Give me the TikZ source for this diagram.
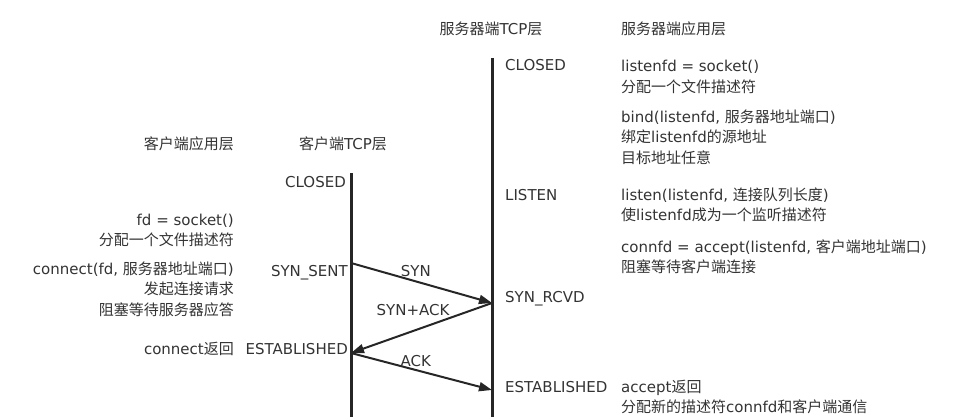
\documentclass[tikz,border=0pt]{standalone}
\usepackage{fontspec}
\setmainfont{DejaVu Sans}
\newfontfamily\zhfont{Noto Sans CJK SC}
\newcommand{\zh}[1]{{\zhfont #1}}
\newcommand{\lcol}[1]{\begin{tabular}[t]{@{}l@{}}#1\end{tabular}}
\newcommand{\rcol}[1]{\begin{tabular}[t]{@{}r@{}}#1\end{tabular}}
\usetikzlibrary{arrows.meta}

\tikzset{
  txt/.style={inner sep=0pt,font=\fontsize{15}{20.5}\selectfont,text=black!80},
  lifeline/.style={line width=3pt,black!85},
  msg/.style={line width=2pt,black!85,-{Triangle[length=13pt,width=9pt]}},
}

\begin{document}
\begin{tikzpicture}[x=1pt,y=-1pt]
    \useasboundingbox (0,0) rectangle (960,417);
    % layer headers
    \node[txt,anchor=base] (stcp) at (491,35) {\zh{服务器端}TCP\zh{层}};
    \node[txt,anchor=base west] (sapp) at (621,35) {\zh{服务器端应用层}};
    \node[txt,anchor=base east] (capp) at (234,149) {\zh{客户端应用层}};
    \node[txt,anchor=base] (ctcp) at (343,149) {\zh{客户端}TCP\zh{层}};
    % lifelines
    \coordinate (cTop) at (351,173);
    \coordinate (cBot) at (351,417);
    \coordinate (sTop) at (492,58);
    \coordinate (sBot) at (492,417);
    \draw[lifeline] (cTop) -- (cBot);
    \draw[lifeline] (sTop) -- (sBot);
    % client TCP states
    \node[txt,anchor=base east] (cClosed) at (346,187) {CLOSED};
    \node[txt,anchor=base east] (cSent) at (348,276) {SYN\_SENT};
    \node[txt,anchor=base east] (cEst) at (348,354) {ESTABLISHED};
    % server TCP states
    \node[txt,anchor=base west] (sClosed) at (505,71) {CLOSED};
    \node[txt,anchor=base west] (sListen) at (505,200) {LISTEN};
    \node[txt,anchor=base west] (sRcvd) at (505,302) {SYN\_RCVD};
    \node[txt,anchor=base west] (sEst) at (505,392) {ESTABLISHED};
    % client application calls
    \node[txt,anchor=base east] (cSocket) at (234,225)
        {\rcol{fd = socket()\\ \zh{分配一个文件描述符}}};
    \node[txt,anchor=base east] (cConnect) at (234,274)
        {\rcol{connect(fd, \zh{服务器地址端口})\\ \zh{发起连接请求}\\ \zh{阻塞等待服务器应答}}};
    \node[txt,anchor=base east] (cRet) at (234,354) {connect\zh{返回}};
    % server application calls
    \node[txt,anchor=base west] (sSocket) at (621,72)
        {\lcol{listenfd = socket()\\ \zh{分配一个文件描述符}}};
    \node[txt,anchor=base west] (sBind) at (621,122)
        {\lcol{bind(listenfd, \zh{服务器地址端口})\\ \zh{绑定}listenfd\zh{的源地址}\\ \zh{目标地址任意}}};
    \node[txt,anchor=base west] (sListenCall) at (621,200)
        {\lcol{listen(listenfd, \zh{连接队列长度})\\ \zh{使}listenfd\zh{成为一个监听描述符}}};
    \node[txt,anchor=base west] (sAccept) at (621,252)
        {\lcol{connfd = accept(listenfd, \zh{客户端地址端口})\\ \zh{阻塞等待客户端连接}}};
    \node[txt,anchor=base west] (sRet) at (621,392)
        {\lcol{accept\zh{返回}\\ \zh{分配新的描述符}connfd\zh{和客户端通信}}};
    % three-way handshake
    \coordinate (cSyn) at (351,263);
    \coordinate (sSyn) at (492,303);
    \coordinate (cAck) at (351,353);
    \coordinate (sAck) at (492,390);
    \draw[msg] (cSyn) -- node[txt,pos=.46,above=4pt] (lSyn) {SYN} (sSyn);
    \draw[msg] (sSyn) -- node[txt,pos=.56,above=14pt] (lSynAck) {SYN+ACK} (cAck);
    \draw[msg] (cAck) -- node[txt,pos=.46,above=2.5pt] (lAck) {ACK} (sAck);
\end{tikzpicture}
\end{document}
